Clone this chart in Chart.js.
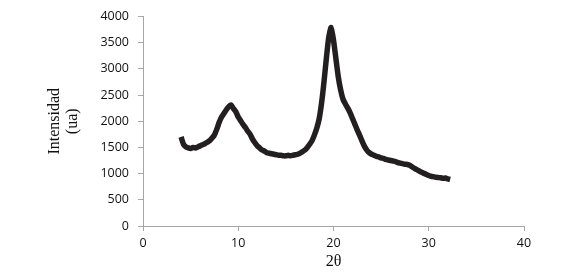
<!DOCTYPE html>
<html>
<head>
<meta charset="utf-8">
<script src="https://cdn.jsdelivr.net/npm/chart.js@4/dist/chart.umd.min.js"></script>
<style>
  html, body { margin: 0; padding: 0; background: #fff; }
  #wrap { width: 580px; height: 274px; position: relative; }
</style>
</head>
<body>
<div id="wrap"><canvas id="chart-xrd"></canvas></div>
<script>
// Data
const twoTheta = [
  4.0, 4.25, 4.5, 4.75, 5.0, 5.25, 5.5, 5.75, 6.0, 6.25, 6.5, 6.75,
  7.0, 7.25, 7.5, 7.75, 8.0, 8.25, 8.5, 8.75, 9.0, 9.25, 9.5, 9.75,
  10.0, 10.25, 10.5, 10.75, 11.0, 11.25, 11.5, 11.75, 12.0, 12.25, 12.5, 12.75,
  13.0, 13.25, 13.5, 13.75, 14.0, 14.25, 14.5, 14.75, 15.0, 15.25, 15.5, 15.75,
  16.0, 16.25, 16.5, 16.75, 17.0, 17.25, 17.5, 17.75, 18.0, 18.25, 18.5, 18.75,
  19.0, 19.25, 19.5, 19.75, 20.0, 20.25, 20.5, 20.75, 21.0, 21.25, 21.5, 21.75,
  22.0, 22.25, 22.5, 22.75, 23.0, 23.25, 23.5, 23.75, 24.0, 24.25, 24.5, 24.75,
  25.0, 25.25, 25.5, 25.75, 26.0, 26.25, 26.5, 26.75, 27.0, 27.25, 27.5, 27.75,
  28.0, 28.25, 28.5, 28.75, 29.0, 29.25, 29.5, 29.75, 30.0, 30.25, 30.5, 30.75,
  31.0, 31.25, 31.5, 31.75, 32.0, 32.25
];
const intensity = [
  1700, 1560, 1510, 1490, 1480, 1500, 1490, 1510, 1530, 1550, 1570, 1600,
  1630, 1680, 1740, 1850, 1980, 2080, 2150, 2220, 2280, 2310, 2240, 2180,
  2080, 2010, 1940, 1880, 1810, 1750, 1660, 1590, 1530, 1490, 1450, 1430,
  1400, 1390, 1380, 1370, 1360, 1350, 1350, 1340, 1340, 1350, 1340, 1350,
  1360, 1370, 1390, 1420, 1450, 1500, 1560, 1630, 1740, 1870, 2050, 2350,
  2750, 3200, 3600, 3790, 3550, 3200, 2850, 2600, 2420, 2330, 2250, 2160,
  2050, 1940, 1830, 1730, 1620, 1520, 1450, 1400, 1370, 1350, 1330, 1320,
  1300, 1290, 1270, 1260, 1250, 1240, 1230, 1210, 1200, 1190, 1180, 1175,
  1160, 1130, 1100, 1075, 1050, 1025, 1005, 985, 965, 950, 940, 930,
  925, 920, 910, 915, 900, 890
];

const axisGray = '#a6a6a6';
const tickFont = { family: 'Open Sans', size: 12.5 };
const titleFont = { family: 'Liberation Serif', size: 16, lineHeight: 1.1 };

!function(){
  const ctx = document.getElementById('chart-xrd');

  new Chart(ctx, {
    type: 'line',
    data: {
      datasets: [{
        data: twoTheta.map((x, i) => ({ x: x, y: intensity[i] })),
        borderColor: '#231f20',
        borderWidth: 5.5,
        pointRadius: 0,
        tension: 0.2
      }]
    },
    options: {
      responsive: true,
      maintainAspectRatio: false,
      animation: false,
      layout: {
        padding: { left: 38, right: 56, top: 16, bottom: 0 }
      },
      plugins: {
        legend: { display: false },
        tooltip: { enabled: false }
      },
      scales: {
        x: {
          type: 'linear',
          min: 0,
          max: 40,
          ticks: { stepSize: 10, color: '#111', font: tickFont, padding: 5, maxRotation: 0,
                   callback: (v) => String(v) },
          grid: { drawOnChartArea: false, drawTicks: true, tickLength: 5, color: axisGray },
          border: { color: axisGray },
          title: {
            display: true,
            text: '2θ',
            color: '#111',
            font: { family: 'Liberation Serif', size: 16, lineHeight: 1.2 },
            padding: { top: 0, bottom: 3 }
          },
          afterFit: (scale) => { scale.height = 48; }
        },
        y: {
          min: 0,
          max: 4000,
          ticks: { stepSize: 500, color: '#111', font: tickFont, padding: 9,
                   callback: (v) => String(v) },
          grid: { drawOnChartArea: false, drawTicks: true, tickLength: 5, color: axisGray },
          border: { color: axisGray },
          title: {
            display: true,
            text: ['Intensidad', '(ua)'],
            color: '#111',
            font: titleFont,
            padding: { top: 8, bottom: 0 }
          },
          afterFit: (scale) => { scale.width = 105; }
        }
      }
    }
  });
}();
</script>
</body>
</html>
